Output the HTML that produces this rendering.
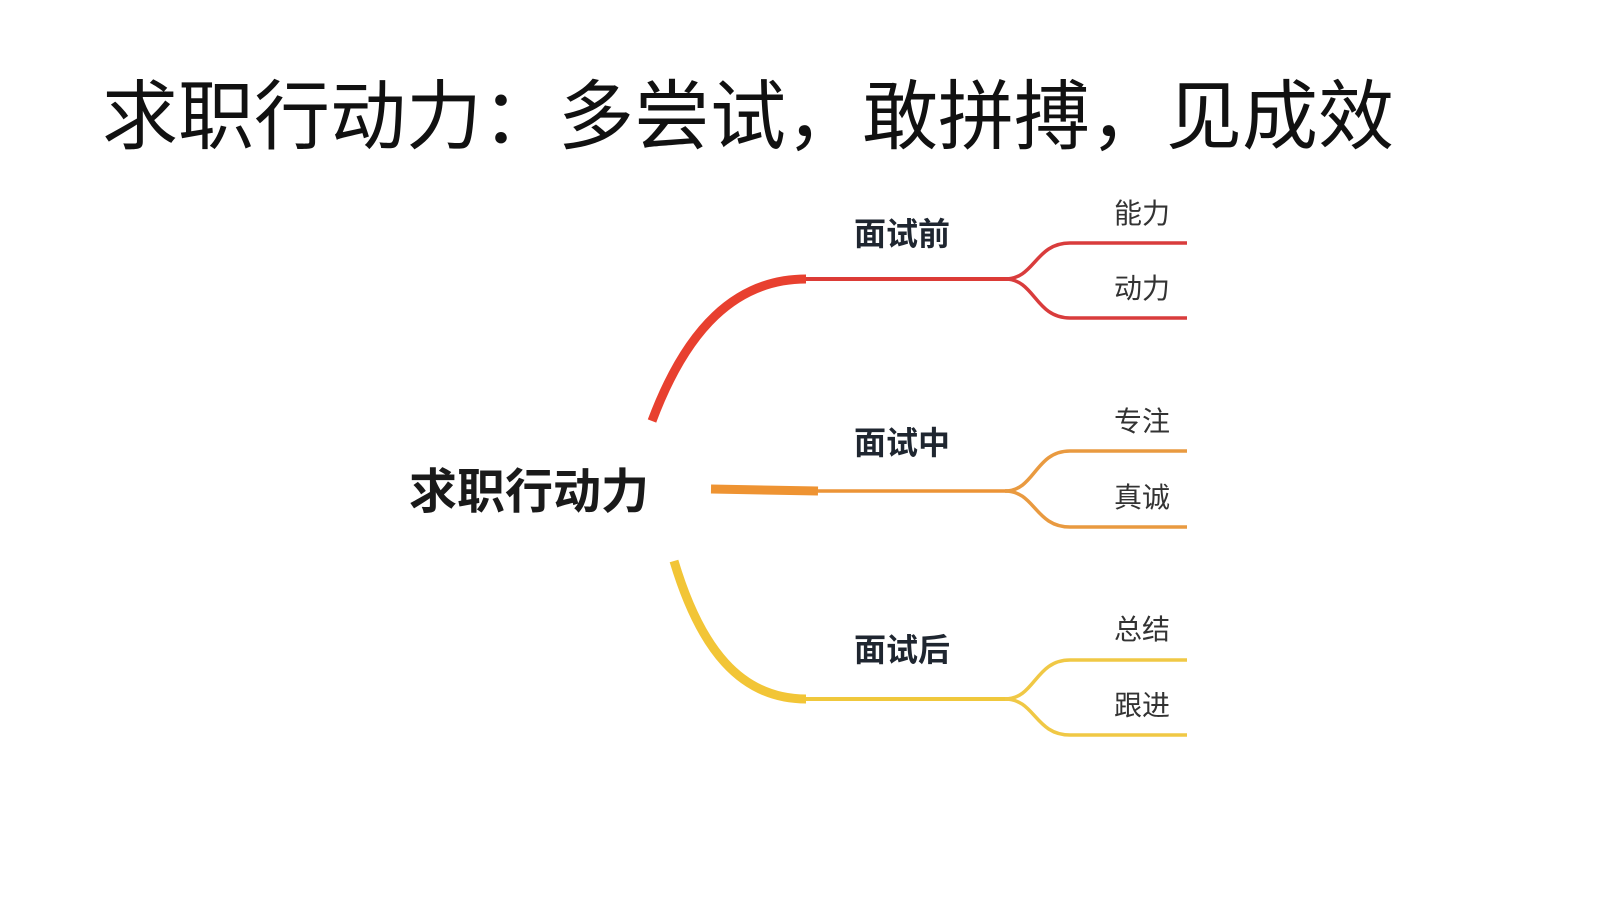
<!DOCTYPE html>
<html><head><meta charset="utf-8"><style>
html,body{margin:0;padding:0;background:#fff;}
body{width:1600px;height:900px;position:relative;overflow:hidden;font-family:"Liberation Sans","Noto Sans CJK SC",sans-serif;}
.t{position:absolute;white-space:nowrap;line-height:1;}
</style></head><body>
<div class="t" style="left:102px;top:80px;font-size:76px;color:#111;">求职行动力：多尝试，敢拼搏，见成效</div>
<svg width="1600" height="900" style="position:absolute;left:0;top:0">
<g fill="none" stroke-linecap="butt">
<path d="M652,421 C686,330 735,279 806,279" stroke="#e8402f" stroke-width="9"/>
<path d="M806,279 L1010,279" stroke="#dc3b36" stroke-width="4"/>
<path d="M1005,279 C1035,279 1035,243 1070,243 L1187,243" stroke="#d93c3c" stroke-width="3.5"/>
<path d="M1005,279 C1035,279 1035,318 1070,318 L1187,318" stroke="#d93c3c" stroke-width="3.5"/>
<path d="M711,489 L818,491" stroke="#ee9332" stroke-width="9"/>
<path d="M818,491 L1010,491" stroke="#ec9436" stroke-width="3.5"/>
<path d="M1005,491 C1035,491 1035,451 1070,451 L1187,451" stroke="#e99a40" stroke-width="3.5"/>
<path d="M1005,491 C1035,491 1035,527 1070,527 L1187,527" stroke="#e99a40" stroke-width="3.5"/>
<path d="M674,561 C700,648 740,699 806,699" stroke="#f2c536" stroke-width="9"/>
<path d="M806,699 L1010,699" stroke="#f0c83c" stroke-width="4"/>
<path d="M1005,699 C1035,699 1035,660 1070,660 L1187,660" stroke="#f0c845" stroke-width="3.5"/>
<path d="M1005,699 C1035,699 1035,735 1070,735 L1187,735" stroke="#f0c845" stroke-width="3.5"/>
</g>
</svg>
<div class="t" style="left:409px;top:469px;font-size:48px;font-weight:bold;color:#1a1a1a;">求职行动力</div>
<div class="t" style="left:854px;top:218px;font-size:32px;font-weight:bold;color:#1f2630;">面试前</div>
<div class="t" style="left:854px;top:427px;font-size:32px;font-weight:bold;color:#1f2630;">面试中</div>
<div class="t" style="left:854px;top:634px;font-size:32px;font-weight:bold;color:#1f2630;">面试后</div>
<div class="t" style="left:1114px;top:200px;font-size:28px;color:#333;">能力</div>
<div class="t" style="left:1114px;top:275px;font-size:28px;color:#333;">动力</div>
<div class="t" style="left:1114px;top:408px;font-size:28px;color:#333;">专注</div>
<div class="t" style="left:1114px;top:484px;font-size:28px;color:#333;">真诚</div>
<div class="t" style="left:1114px;top:616px;font-size:28px;color:#333;">总结</div>
<div class="t" style="left:1114px;top:692px;font-size:28px;color:#333;">跟进</div>
</body></html>
